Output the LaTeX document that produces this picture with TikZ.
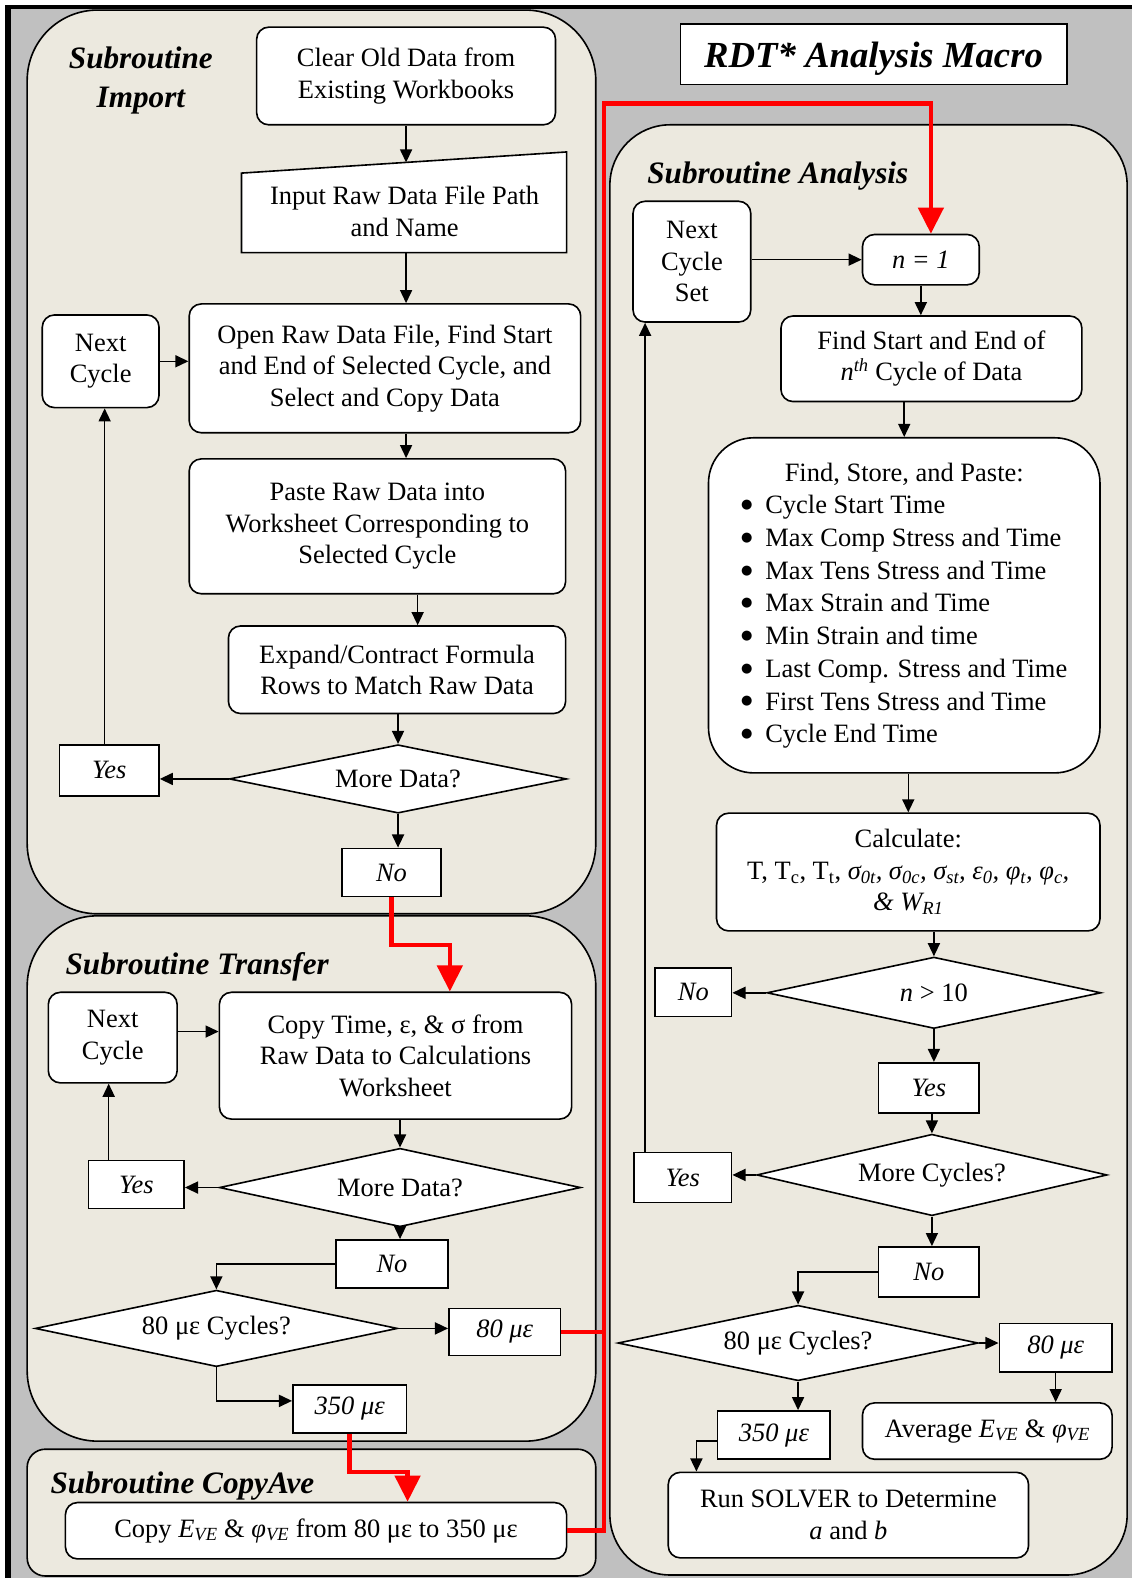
\documentclass[tikz,border=0pt]{standalone}
\usepackage{fontspec}
\setmainfont{Liberation Serif}
\newfontfamily\symfont{DejaVu Sans}
\usetikzlibrary{arrows.meta,shapes.geometric}
\definecolor{framegray}{RGB}{192,192,192}
\definecolor{panelfill}{RGB}{236,233,223}
\definecolor{flowred}{RGB}{255,0,0}
\newcommand{\itembullet}{\makebox[24pt][l]{\raisebox{5pt}{\symfont\fontsize{13}{0}\selectfont ●}}}

\begin{document}
\begin{tikzpicture}[x=1pt,y=-1pt,
  every node/.style={font=\fontsize{26.3}{31.3}\selectfont, inner sep=0pt},
  panel/.style={draw=black, line width=1.6pt, fill=panelfill, rounded corners=70pt},
  rbox/.style={draw, line width=1.6pt, fill=white, rounded corners=12pt, align=center},
  sbox/.style={draw, line width=1.6pt, fill=white, align=center, font=\fontsize{26.3}{31.3}\selectfont\itshape},
  dec/.style={diamond, aspect=5, draw, line width=1.6pt, fill=white, align=center},
  arr/.style={line width=1.5pt, -{Triangle[length=13pt,width=12pt]}},
  link/.style={line width=1.5pt},
  redarr/.style={draw=flowred, line width=4.5pt, -{Triangle[length=26pt,width=25pt]}},
  redlink/.style={draw=flowred, line width=4.5pt},
  ttl/.style={font=\fontsize{31}{38}\selectfont\bfseries\itshape},
]
\useasboundingbox (0,0) rectangle (1125,1568);

% frame
\fill[white] (0,0) rectangle (1125,1568);
\fill[framegray] (5,5) rectangle (1125,1568);
\fill[black] (5,5) rectangle (1125,9);
\fill[black] (5,5) rectangle (11,1568);

% subroutine panels
\draw[panel] (27,10) rectangle (592,908);
\draw[panel] (27,910) rectangle (592,1432);
\draw[panel, rounded corners=18pt] (27,1440) rectangle (592,1566);
\draw[panel, rounded corners=60pt] (606,124) rectangle (1120,1565);

% macro title
\node[draw, line width=1.6pt, fill=white, minimum width=384pt, minimum height=60pt, text depth=0pt,
      font=\fontsize{36.5}{40}\selectfont\bfseries\itshape] (mtitle) at (868,54) {RDT* Analysis Macro};

% ---------------- Subroutine Import ----------------
\node[ttl, align=center] (tImp) at (140,80) {Subroutine\\Import};
\node[rbox, minimum width=297pt, minimum height=97pt] (clr) at (403.5,75.5) {Clear Old Data from\\Existing Workbooks};
\draw[line width=1.6pt, fill=white] (240,172) -- (563,151) -- (563,251) -- (240,251) -- cycle;
\node[align=center] (inp) at (402,210) {Input Raw Data File Path\\and Name};
\coordinate (inptop) at (403.5,161.4);
\coordinate (inpbot) at (403.5,251);
\node[rbox, minimum width=389pt, minimum height=128pt] (opn) at (382.5,366) {Open Raw Data File, Find Start\\and End of Selected Cycle, and\\Select and Copy Data};
\node[rbox, minimum width=116pt, minimum height=92pt] (nc1) at (100,359) {Next\\Cycle};
\node[rbox, minimum width=374pt, minimum height=134pt] (pst) at (375,523) {Paste Raw Data into\\Worksheet Corresponding to\\Selected Cycle};
\node[rbox, minimum width=335pt, minimum height=87pt] (exp) at (394.5,665.5) {Expand/Contract Formula\\Rows to Match Raw Data};
\node[dec, minimum width=335pt, minimum height=68pt] (md1) at (395.5,774) {More Data?};
\node[sbox, minimum width=99pt, minimum height=51pt] (yes1) at (108.5,765.5) {Yes};
\node[sbox, minimum width=98pt, minimum height=48pt] (no1) at (389,867) {No};

\draw[arr] (clr.south) -- (inptop);
\draw[arr] (inpbot) -- (inpbot |- opn.north);
\draw[arr] (nc1.east) -- (nc1.east -| opn.west);
\draw[arr] (clr.south |- opn.south) -- (clr.south |- pst.north);
\draw[arr] ([xshift=40pt]pst.south) -- ([xshift=40pt]pst.south |- exp.north);
\draw[arr] (md1.north |- exp.south) -- (md1.north);
\draw[arr] (md1.west) -- (md1.west -| yes1.east);
\draw[arr] ([xshift=-4.5pt]yes1.north) -- ([xshift=-4.5pt]yes1.north |- nc1.south);
\draw[arr] (md1.south) -- (md1.south |- no1.north);

% ---------------- Subroutine Transfer ----------------
\node[ttl, anchor=west] (tTrn) at (65,961) {Subroutine Transfer};
\node[rbox, minimum width=128pt, minimum height=90pt] (nc2) at (112,1031) {Next\\Cycle};
\node[rbox, minimum width=350pt, minimum height=126pt] (cpy) at (393,1049) {Copy Time, ε, \& σ from\\Raw Data to Calculations\\Worksheet};
\node[dec, minimum width=359pt, minimum height=78pt] (md2) at (397.5,1180) {More Data?};
\node[sbox, minimum width=95pt, minimum height=48pt] (yes2) at (135.5,1177) {Yes};
\node[sbox, minimum width=111pt, minimum height=48pt] (no2) at (389.5,1256) {No};
\node[dec, minimum width=360pt, minimum height=76pt] (c80a) at (215,1320) {80 με Cycles?};
\node[sbox, minimum width=111pt, minimum height=47pt] (e80a) at (501.5,1323.5) {80 με};
\node[sbox, minimum width=113pt, minimum height=48pt] (e350a) at (347.5,1400) {350 με};

\draw[arr] ([yshift=6pt]nc2.east) -- ([yshift=6pt]nc2.east -| cpy.west);
\draw[arr] (md2.north |- cpy.south) -- (md2.north);
\draw[arr] (md2.west) -- (md2.west -| yes2.east);
\draw[arr] ([xshift=-27.5pt]yes2.north) -- ([xshift=-27.5pt]yes2.north |- nc2.south);
\draw[arr] (md2.south) -- (md2.south |- no2.north);
\draw[arr] (no2.west) -| (c80a.north);
\draw[arr] (c80a.east) -- (c80a.east -| e80a.west);
\draw[arr] (c80a.south) |- ([yshift=8pt]e350a.west);

% ---------------- Subroutine CopyAve ----------------
\node[ttl, anchor=west] (tCpa) at (50,1477) {Subroutine CopyAve};
\node[rbox, minimum width=498pt, minimum height=56pt] (cav) at (314,1521) {Copy \textit{E\textsubscript{VE}} \& \textit{φ\textsubscript{VE}} from 80 με to 350 με};

% ---------------- Subroutine Analysis ----------------
\node[ttl, anchor=west] (tAna) at (643,175) {Subroutine Analysis};
\node[rbox, minimum width=117pt, minimum height=120pt] (ncs) at (687.5,260) {Next\\Cycle\\Set};
\node[rbox, minimum width=116pt, minimum height=50pt, font=\fontsize{26.3}{31.3}\selectfont\itshape] (n1) at (915,258) {n = 1};
\node[rbox, minimum width=299pt, minimum height=85pt] (fse) at (925.5,356.5) {Find Start and End of\\\textit{n\textsuperscript{th}} Cycle of Data};
\node[rbox, rounded corners=45pt, minimum width=389pt, minimum height=333pt] (fsp) at (898.5,601.5) {\fontsize{26.3}{32.5}\selectfont
  \raisebox{-3pt}{\begin{tabular}{@{}l@{}}
  \multicolumn{1}{@{}c@{}}{Find, Store, and Paste:}\\
  \itembullet Cycle Start Time\\
  \itembullet Max Comp Stress and Time\\
  \itembullet Max Tens Stress and Time\\
  \itembullet Max Strain and Time\\
  \itembullet Min Strain and time\\
  \itembullet Last Comp. Stress and Time\\
  \itembullet First Tens Stress and Time\\
  \itembullet Cycle End Time
  \end{tabular}}};
\node[rbox, minimum width=381pt, minimum height=117pt] (calc) at (902.5,866.5) {Calculate:\\T, T\textsubscript{c}, T\textsubscript{t}, \textit{σ\textsubscript{0t}, σ\textsubscript{0c}, σ\textsubscript{st}, ε\textsubscript{0}, φ\textsubscript{t}, φ\textsubscript{c},}\\\textit{\& W\textsubscript{R1}}};
\node[dec, minimum width=332pt, minimum height=71pt] (n10) at (928,986.5) {\textit{n} > 10};
\node[sbox, minimum width=76pt, minimum height=48pt] (noA) at (689,986) {No};
\node[sbox, minimum width=100pt, minimum height=50pt] (yesA) at (923,1081) {Yes};
\node[dec, minimum width=348pt, minimum height=81pt] (mc) at (926,1167.5) {More Cycles?};
\node[sbox, minimum width=97pt, minimum height=50pt] (yesB) at (678.5,1170) {Yes};
\node[sbox, minimum width=100pt, minimum height=50pt] (noB) at (923,1264) {No};
\node[dec, minimum width=358pt, minimum height=75pt] (c80b) at (793,1334.5) {80 με Cycles?};
\node[sbox, minimum width=112pt, minimum height=48pt] (e80b) at (1049,1339) {80 με};
\node[rbox, minimum width=248pt, minimum height=56pt] (avg) at (981,1422) {Average \textit{E\textsubscript{VE}} \& \textit{φ\textsubscript{VE}}};
\node[sbox, minimum width=112pt, minimum height=48pt] (e350b) at (769,1426) {350 με};
\node[rbox, minimum width=358pt, minimum height=85pt] (slv) at (843,1505.5) {Run SOLVER to Determine\\\textit{a} and \textit{b}};

\draw[arr] (ncs.east |- n1.west) -- (n1.west);
\draw[arr] (n1.south) -- (n1.south |- fse.north);
\draw[arr] (fsp.north |- fse.south) -- (fsp.north);
\draw[arr] (calc.north |- fsp.south) -- (calc.north);
\draw[arr] (n10.north |- calc.south) -- (n10.north);
\draw[arr] (n10.west) -- (n10.west -| noA.east);
\draw[arr] (n10.south) -- (n10.south |- yesA.north);
\draw[arr] (mc.north |- yesA.south) -- (mc.north);
\draw[arr] (mc.west) -- (mc.west -| yesB.east);
\draw[arr] ([xshift=-37.5pt]yesB.north) -- ([xshift=-37.5pt]yesB.north |- ncs.south);
\draw[arr] (mc.south) -- (mc.south |- noB.north);
\draw[arr] (noB.west) -| (c80b.north);
\draw[arr] (c80b.east) -- (c80b.east -| e80b.west);
\draw[arr] (e80b.south) -- (e80b.south |- avg.north);
\draw[arr] (c80b.south) -- (c80b.south |- e350b.north);
\draw[arr] ([yshift=-6pt]e350b.west) -| ([xshift=-151pt]slv.north);

% ---------------- red hand-over path between subroutines ----------------
\coordinate (bus) at (600,103);
\draw[redarr] (no1.south) -- ++(0,47) -| ([xshift=54pt]cpy.north);
\draw[redarr] (e350a.south) -- ++(0,38) -| ([xshift=91pt]cav.north);
\draw[redlink] (e80a.east) -- (e80a.east -| bus);
\draw[redarr] (cav.east) -| (bus) -| ([xshift=10pt]n1.north);

\end{tikzpicture}
\end{document}
